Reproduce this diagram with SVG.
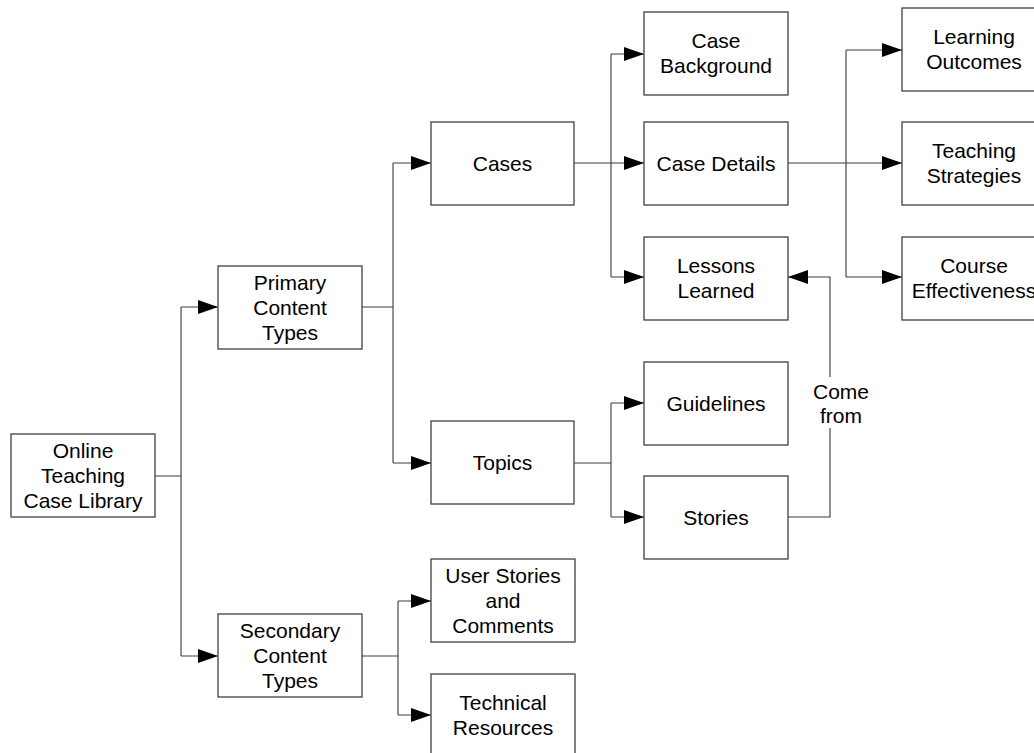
<svg xmlns="http://www.w3.org/2000/svg" width="1034" height="753" viewBox="0 0 1034 753">
  <defs>
    <marker id="arrow" markerUnits="userSpaceOnUse" markerWidth="20" markerHeight="14" refX="20" refY="7" orient="auto">
      <path d="M0,0 L20,7 L0,14 Z" fill="#000"/>
    </marker>
    <style>
      .box { fill: #fff; stroke: #404040; stroke-width: 1.3; }
      .lbl { font-family: "Liberation Sans", Arial, sans-serif; font-size: 21px; fill: #000; text-anchor: middle; }
      .wire { fill: none; stroke: #3a3a3a; stroke-width: 1.1; }
      .arr { marker-end: url(#arrow); }
    </style>
  </defs>
  <rect width="1034" height="753" fill="#fff"/>

  <!-- connectors -->
  <g id="connectors">
    <path class="wire" d="M155,476 H181 M181,307 V656"/>
    <path class="wire arr" d="M181,307 H218"/>
    <path class="wire arr" d="M181,656 H218"/>

    <path class="wire" d="M362,307 H393 M393,163 V463"/>
    <path class="wire arr" d="M393,163 H431"/>
    <path class="wire arr" d="M393,463 H431"/>

    <path class="wire" d="M574,163 H611 M611,54 V277"/>
    <path class="wire arr" d="M611,54 H644"/>
    <path class="wire arr" d="M611,163 H644"/>
    <path class="wire arr" d="M611,277 H644"/>

    <path class="wire" d="M788,163 H846 M846,50 V277"/>
    <path class="wire arr" d="M846,50 H902"/>
    <path class="wire arr" d="M846,163 H902"/>
    <path class="wire arr" d="M846,277 H902"/>

    <path class="wire" d="M574,463 H611 M611,403 V517"/>
    <path class="wire arr" d="M611,403 H644"/>
    <path class="wire arr" d="M611,517 H644"/>

    <path class="wire" d="M362,656 H398 M398,601 V715"/>
    <path class="wire arr" d="M398,601 H431"/>
    <path class="wire arr" d="M398,715 H431"/>

    <!-- stories feed lessons learned -->
    <path class="wire" d="M788,517 H830 V428"/>
    <path class="wire arr" d="M830,377 V277 H788"/>
    <text class="lbl" x="841" y="399">Come</text>
    <text class="lbl" x="841" y="423">from</text>
  </g>

  <g id="online-library">
    <rect class="box" x="11" y="434" width="144" height="83"/>
    <text class="lbl" x="83" y="458">Online</text>
    <text class="lbl" x="83" y="483">Teaching</text>
    <text class="lbl" x="83" y="508">Case Library</text>
  </g>

  <g id="primary-content">
    <rect class="box" x="218" y="266" width="144" height="83"/>
    <text class="lbl" x="290" y="290">Primary</text>
    <text class="lbl" x="290" y="315">Content</text>
    <text class="lbl" x="290" y="340">Types</text>
  </g>

  <g id="secondary-content">
    <rect class="box" x="218" y="614" width="144" height="83"/>
    <text class="lbl" x="290" y="638">Secondary</text>
    <text class="lbl" x="290" y="663">Content</text>
    <text class="lbl" x="290" y="688">Types</text>
  </g>

  <g id="cases">
    <rect class="box" x="431" y="122" width="143" height="83"/>
    <text class="lbl" x="502.5" y="171">Cases</text>
  </g>

  <g id="topics">
    <rect class="box" x="431" y="421" width="143" height="83"/>
    <text class="lbl" x="502.5" y="470">Topics</text>
  </g>

  <g id="user-stories">
    <rect class="box" x="431" y="559" width="144" height="83"/>
    <text class="lbl" x="503" y="583">User Stories</text>
    <text class="lbl" x="503" y="608">and</text>
    <text class="lbl" x="503" y="633">Comments</text>
  </g>

  <g id="technical-resources">
    <rect class="box" x="431" y="674" width="144" height="83"/>
    <text class="lbl" x="503" y="710">Technical</text>
    <text class="lbl" x="503" y="735">Resources</text>
  </g>

  <g id="case-background">
    <rect class="box" x="644" y="12" width="144" height="83"/>
    <text class="lbl" x="716" y="48">Case</text>
    <text class="lbl" x="716" y="73">Background</text>
  </g>

  <g id="case-details">
    <rect class="box" x="644" y="122" width="144" height="83"/>
    <text class="lbl" x="716" y="171">Case Details</text>
  </g>

  <g id="lessons-learned">
    <rect class="box" x="644" y="237" width="144" height="83"/>
    <text class="lbl" x="716" y="273">Lessons</text>
    <text class="lbl" x="716" y="298">Learned</text>
  </g>

  <g id="guidelines">
    <rect class="box" x="644" y="362" width="144" height="83"/>
    <text class="lbl" x="716" y="411">Guidelines</text>
  </g>

  <g id="stories">
    <rect class="box" x="644" y="476" width="144" height="83"/>
    <text class="lbl" x="716" y="525">Stories</text>
  </g>

  <g id="learning-outcomes">
    <rect class="box" x="902" y="8" width="144" height="83"/>
    <text class="lbl" x="974" y="44">Learning</text>
    <text class="lbl" x="974" y="69">Outcomes</text>
  </g>

  <g id="teaching-strategies">
    <rect class="box" x="902" y="122" width="144" height="83"/>
    <text class="lbl" x="974" y="158">Teaching</text>
    <text class="lbl" x="974" y="183">Strategies</text>
  </g>

  <g id="course-effectiveness">
    <rect class="box" x="902" y="237" width="144" height="83"/>
    <text class="lbl" x="974" y="273">Course</text>
    <text class="lbl" x="974" y="298">Effectiveness</text>
  </g>
</svg>
